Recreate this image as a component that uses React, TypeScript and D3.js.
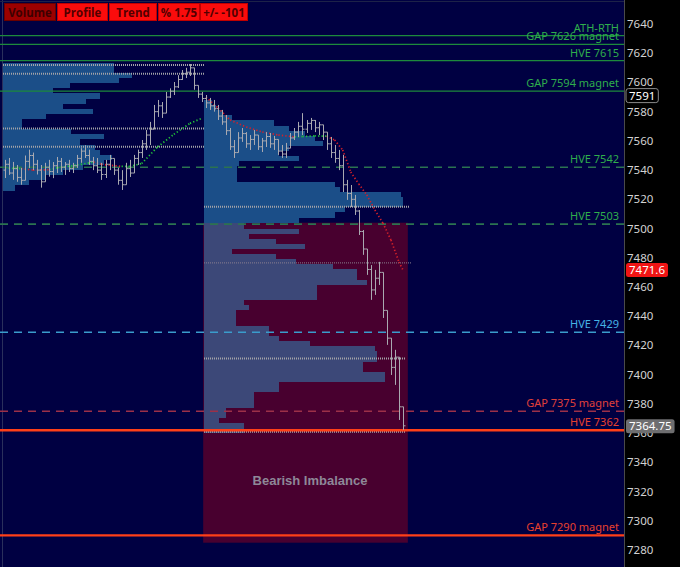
import React, { useEffect, useRef } from 'react';
import * as d3 from 'd3';

const W = 680;
const H = 567;
const PLOT_RIGHT = 624;

// price bars, oldest first: [open, high, low, close]
const bars: [number, number, number, number][] = [
  [7540, 7547, 7534.6, 7544], [7544, 7548.3, 7536.7, 7538], [7538, 7545.6, 7533.3, 7541], [7541, 7543.5, 7532, 7535],
  [7535, 7541.5, 7530, 7533], [7533, 7550, 7537, 7546], [7546, 7554, 7541.5, 7550], [7550, 7552, 7540, 7544],
  [7544, 7547, 7537, 7540], [7540, 7543.5, 7528, 7532], [7532, 7545, 7533, 7542], [7542, 7547, 7535.5, 7539],
  [7539, 7545.5, 7534.5, 7543], [7543, 7549, 7538, 7546], [7546, 7548.3, 7538.7, 7542], [7542, 7545.5, 7536.7, 7544],
  [7544, 7547, 7538.7, 7541], [7541, 7545, 7538, 7543], [7543, 7550.4, 7541.5, 7548], [7548, 7555, 7545, 7553],
  [7553, 7557, 7548.3, 7550], [7550, 7554, 7543.5, 7546], [7546, 7549, 7540, 7543], [7543, 7548.3, 7538, 7540],
  [7540, 7545, 7533.3, 7537], [7537, 7547, 7534.6, 7544], [7544, 7550.4, 7540, 7548], [7548, 7547, 7536.7, 7540],
  [7540, 7541.5, 7530, 7533], [7533, 7540, 7526.4, 7530], [7530, 7545, 7533.3, 7541], [7541, 7547, 7535.3, 7538],
  [7538, 7550.4, 7541.5, 7548], [7548, 7554, 7543.5, 7552], [7552, 7560.6, 7548.3, 7558], [7558, 7567.5, 7553.8, 7564],
  [7564, 7573, 7557.2, 7568], [7568, 7584.6, 7571, 7580], [7580, 7588, 7576.4, 7584], [7584, 7586.6, 7575.7, 7579],
  [7579, 7593.5, 7582.5, 7590], [7590, 7596, 7589.4, 7594], [7594, 7600.3, 7591.4, 7597], [7597, 7605, 7596.2, 7602],
  [7602, 7608.5, 7601.7, 7606], [7606, 7610, 7603, 7607], [7607, 7612.6, 7604.4, 7610], [7610, 7610, 7595, 7598],
  [7598, 7598, 7589.4, 7592], [7592, 7593.5, 7586.6, 7589], [7589, 7591.4, 7582.5, 7586], [7586, 7589.4, 7581.2, 7584],
  [7584, 7588, 7580, 7582], [7582, 7584.6, 7574.3, 7577], [7577, 7581.2, 7571, 7573], [7573, 7577.7, 7564, 7567],
  [7567, 7568.8, 7553.8, 7556], [7556, 7560.6, 7548.3, 7552], [7552, 7566, 7553.8, 7562], [7562, 7568.8, 7559.3, 7565],
  [7565, 7566, 7555.2, 7558], [7558, 7564, 7553.8, 7561], [7561, 7567.5, 7557.2, 7564], [7564, 7564, 7553.8, 7556],
  [7556, 7562, 7552.4, 7560], [7560, 7566, 7555.8, 7563], [7563, 7565.4, 7555.2, 7558], [7558, 7563.4, 7553.8, 7561],
  [7561, 7560.6, 7550.4, 7553], [7553, 7557.2, 7548.3, 7551], [7551, 7558.6, 7548.3, 7555], [7555, 7565.4, 7555.2, 7562],
  [7562, 7568.8, 7560.6, 7566], [7566, 7573, 7562.7, 7570], [7570, 7579, 7564, 7568], [7568, 7574.3, 7565.4, 7572],
  [7572, 7575.7, 7567.5, 7574], [7574, 7574.3, 7566, 7569], [7569, 7573, 7564, 7571], [7571, 7571, 7560.6, 7566],
  [7566, 7566, 7553.8, 7558], [7558, 7562.7, 7548.3, 7552], [7552, 7557.2, 7545, 7548], [7548, 7553.8, 7540, 7543],
  [7543, 7550.4, 7525, 7530], [7530, 7533.3, 7519.6, 7524], [7524, 7529.8, 7514.8, 7520], [7520, 7523, 7509.3, 7512],
  [7512, 7512.7, 7495.6, 7498], [7498, 7499, 7482, 7486], [7486, 7485.4, 7468.3, 7472], [7472, 7475, 7451.2, 7458],
  [7458, 7471.7, 7454.6, 7466], [7466, 7477.2, 7461.4, 7470], [7470, 7464.8, 7438.8, 7444], [7444, 7443, 7420.4, 7425],
  [7425, 7423.8, 7399.8, 7405], [7405, 7417, 7393, 7412], [7412, 7403.3, 7369, 7378], [7378, 7374.5, 7362.2, 7365],
];

// session VWAP-style averages: [bar index, price, trend]
const avgLeft: [number, number, string][] = [
  [0, 7541.5, 'up'], [4, 7541, 'up'], [7, 7540, 'down'], [11, 7540.3, 'down'], [13, 7541.5, 'up'],
  [18, 7543.5, 'up'], [22, 7545.5, 'up'], [24, 7544, 'down'], [29, 7542.5, 'down'], [31, 7542.5, 'up'],
  [34, 7544.5, 'up'], [38, 7556, 'up'], [42, 7564.5, 'up'], [46, 7572, 'up'], [49, 7575.5, 'up'],
];
const avgMid: [number, number, string][] = [
  [50, 7590, 'down'], [53, 7582.5, 'down'], [56, 7574.3, 'down'], [60, 7569.5, 'down'], [64, 7566.1, 'down'],
  [68, 7564, 'down'], [72, 7562.7, 'down'], [74, 7563, 'up'], [77, 7563.4, 'up'], [80, 7563.2, 'up'],
  [82, 7560.6, 'down'], [84, 7553.8, 'down'], [86, 7538.7, 'down'], [88, 7530.5, 'down'], [90, 7523, 'down'],
  [92, 7512.7, 'down'], [94, 7503.8, 'down'], [96, 7492.2, 'down'], [98, 7477.1, 'down'], [99, 7471.6, 'down'],
];

// volume profiles: row top price + volume
const ROW = 3.5;
const leftProfilePrices = [
  7613.5, 7610, 7606.5, 7603, 7599.5, 7596, 7592.5, 7589, 7585.5, 7582, 7578.5, 7575, 7571.5,
  7568, 7564.5, 7561, 7557.5, 7554, 7550.5, 7547, 7543.5, 7540, 7536.5, 7533, 7529.5,
];
const leftProfileVolumes = [
  110, 110, 128, 115, 67, 50, 97, 83, 60, 90, 43, 19, 19,
  68, 100, 77, 92, 97, 108, 100, 80, 60, 42, 26, 12,
];
const midProfilePrices = [
  7588, 7584.5, 7581, 7577.5, 7574, 7570.5, 7567, 7563.5, 7560, 7556.5, 7553, 7549.5,
  7546, 7542.5, 7539, 7535.5, 7532, 7528.5, 7525, 7521.5, 7518, 7514.5, 7511, 7507.5,
];
const midProfileVolumes = [
  8, 12, 18, 28, 70, 85, 100, 110, 118, 85, 75, 95,
  35, 33, 33, 33, 130, 135, 196, 198, 198, 140, 130, 95,
];
const imbProfilePrices = [
  7503.5, 7500, 7496.5, 7493, 7489.5, 7486, 7482.5, 7479, 7475.5, 7472, 7468.5, 7465, 7461.5, 7458,
  7454.5, 7451, 7447.5, 7444, 7440.5, 7437, 7433.5, 7430, 7426.5, 7423, 7419.5, 7416, 7412.5, 7409,
  7405.5, 7402, 7398.5, 7395, 7391.5, 7388, 7384.5, 7381, 7377.5, 7374, 7370.5, 7367, 7363.5,
];
const imbProfileVolumes = [
  40, 95, 45, 72, 100, 28, 72, 92, 128, 152, 152, 162, 112, 112,
  112, 40, 45, 32, 32, 32, 65, 65, 75, 105, 170, 172, 172, 158,
  158, 180, 180, 75, 75, 50, 50, 50, 22, 22, 15, 40, 40,
];

// dotted POC / value area lines per profile
const leftProfileLines = [7612, 7606, 7568.5, 7556];
const midProfileLines = [7515];
const midFaintLines = [7476.5];
const imbProfileLines = [7411, 7361];

// bearish imbalance zone
const imbTop = 7504;
const imbBottom = 7285;
const imbLabel = 'Bearish Imbalance';

// horizontal levels
const levelPrices = [7632, 7626, 7615, 7594, 7542, 7503, 7429, 7375, 7362, 7290];
const levelLabels = [
  'ATH-RTH', 'GAP 7626 magnet', 'HVE 7615', 'GAP 7594 magnet', 'HVE 7542',
  'HVE 7503', 'HVE 7429', 'GAP 7375 magnet', 'HVE 7362', 'GAP 7290 magnet',
];
const levelKinds = [
  'green', 'green', 'green', 'green', 'greenDash', 'greenDash', 'blueDash', 'redDash', 'orange', 'orange2',
];

const priceTicks = [
  7280, 7300, 7320, 7340, 7360, 7380, 7400, 7420, 7440, 7460,
  7480, 7500, 7520, 7540, 7560, 7580, 7600, 7620, 7640,
];

const markerPrices = [7591, 7471.6, 7364.75];
const markerTexts = ['7591', '7471.6', '7364.75'];
const markerKinds = ['outline', 'red', 'grey'];

const buttonLabels = ['Volume', 'Profile', 'Trend', '% 1.75', '+/- -101'];

const levelStyle: Record<string, { stroke: string; text: string; width: number; dash: string | null }> = {
  green: { stroke: '#1d8a3c', text: '#2fae4c', width: 1.2, dash: null },
  greenDash: { stroke: '#2b7350', text: '#2fae4c', width: 1.6, dash: '8 6' },
  blueDash: { stroke: '#3a9ccc', text: '#45b4e6', width: 1.6, dash: '8 6' },
  redDash: { stroke: '#9c3048', text: '#e0403a', width: 1.6, dash: '8 6' },
  orange: { stroke: '#ff3f18', text: '#e8402e', width: 2.6, dash: null },
  orange2: { stroke: '#ff3f18', text: '#e8402e', width: 2.2, dash: null },
};

const App: React.FC = () => {
  const svgRef = useRef<SVGSVGElement>(null);

  useEffect(() => {
    const svg = d3.select(svgRef.current);
    svg.selectAll('*').remove();

    const x = d3.scaleLinear().domain([0, bars.length - 1]).range([5, 403]);
    const y = d3.scaleLinear().domain([7280, 7640]).range([550, 24]);
    const vol = d3.scaleLinear().domain([0, 200]).range([0, x(49.5) - x(-0.5)]);

    // backgrounds
    svg.append('rect').attr('width', W).attr('height', H).attr('fill', '#000000');
    svg.append('rect').attr('width', PLOT_RIGHT).attr('height', H).attr('fill', '#000042');
    svg.append('line').attr('x1', 2.5).attr('x2', 2.5).attr('y1', 0).attr('y2', H)
      .attr('stroke', '#2a2f5c').attr('stroke-width', 1);
    svg.append('line').attr('x1', 0).attr('x2', PLOT_RIGHT).attr('y1', 1.5).attr('y2', 1.5)
      .attr('stroke', '#1d2248').attr('stroke-width', 1);

    // imbalance zone
    svg.append('rect')
      .attr('x', x(49.3)).attr('y', y(imbTop))
      .attr('width', x(100.2) - x(49.3)).attr('height', y(imbBottom) - y(imbTop))
      .attr('fill', '#48002f');

    const drawProfile = (prices: number[], volumes: number[], start: number, color: string) => {
      svg.append('g').attr('shape-rendering', 'crispEdges')
        .selectAll('rect').data(prices).join('rect')
        .attr('x', Math.round(x(start)))
        .attr('y', d => Math.round(y(d)))
        .attr('width', (_, i) => Math.round(vol(volumes[i])))
        .attr('height', d => Math.round(y(d - ROW)) - Math.round(y(d)))
        .attr('fill', color);
    };
    drawProfile(leftProfilePrices, leftProfileVolumes, -0.5, '#1b4e88');
    drawProfile(midProfilePrices, midProfileVolumes, 49.5, '#1b4e88');
    drawProfile(imbProfilePrices, imbProfileVolumes, 49.5, '#3c4878');

    const drawProfileLines = (prices: number[], start: number, end: number, color: string, width: number) => {
      svg.append('g').selectAll('line').data(prices).join('line')
        .attr('x1', x(start)).attr('x2', x(end))
        .attr('y1', d => y(d)).attr('y2', d => y(d))
        .attr('stroke', color)
        .attr('stroke-width', width)
        .attr('stroke-dasharray', '1 1');
    };
    drawProfileLines(leftProfileLines, -0.5, 49.5, '#a3a3a8', 2);
    drawProfileLines(midProfileLines, 49.5, 100.5, '#a3a3a8', 2);
    drawProfileLines(midFaintLines, 49.5, 101, '#8a7f90', 1);
    drawProfileLines(imbProfileLines, 49.5, 99.5, '#a3a3a8', 2);

    svg.append('text')
      .attr('x', 310).attr('y', 485)
      .attr('text-anchor', 'middle')
      .attr('font-family', '"Liberation Sans", Arial, sans-serif')
      .attr('font-weight', 'bold').attr('font-size', 13)
      .attr('fill', '#8e8898')
      .text(imbLabel);

    // horizontal levels
    levelPrices.forEach((p, i) => {
      const st = levelStyle[levelKinds[i]];
      svg.append('line')
        .attr('x1', 0).attr('x2', PLOT_RIGHT)
        .attr('y1', y(p)).attr('y2', y(p))
        .attr('stroke', st.stroke).attr('stroke-width', st.width)
        .attr('stroke-dasharray', st.dash);
      svg.append('text')
        .attr('x', 619).attr('y', y(p) - 4)
        .attr('text-anchor', 'end')
        .attr('font-family', '"Noto Sans", sans-serif').attr('font-size', 11)
        .attr('fill', st.text)
        .text(levelLabels[i]);
    });

    // averages (dotted, coloured by trend)
    const line = d3.line<[number, number, string]>().x(d => x(d[0])).y(d => y(d[1])).curve(d3.curveMonotoneX);
    [avgLeft, avgMid].forEach(pts => {
      for (let k = 1; k < pts.length; k++) {
        const seg = [pts[k - 1], pts[k]];
        svg.append('path')
          .attr('d', line(seg))
          .attr('fill', 'none')
          .attr('stroke', pts[k][2] === 'up' ? '#22c23a' : '#d4202a')
          .attr('stroke-width', 1.7)
          .attr('stroke-dasharray', '1.3 2.2');
      }
    });

    // OHLC bars
    const g = svg.append('g').attr('stroke', '#a9a9b0').attr('stroke-width', 1);
    bars.forEach(([o, hi, lo, c], i) => {
      const cx = Math.round(x(i)) + 0.5;
      const top = Math.max(hi, o, c);
      const bot = Math.min(lo, o, c);
      g.append('line').attr('x1', cx).attr('x2', cx).attr('y1', y(top)).attr('y2', y(bot));
      g.append('line').attr('x1', cx - 2).attr('x2', cx).attr('y1', y(o)).attr('y2', y(o));
      g.append('line').attr('x1', cx).attr('x2', cx + 2).attr('y1', y(c)).attr('y2', y(c));
    });

    // price axis
    svg.append('line').attr('x1', PLOT_RIGHT + 0.5).attr('x2', PLOT_RIGHT + 0.5).attr('y1', 0).attr('y2', H)
      .attr('stroke', '#4a4a4a');
    svg.append('g').selectAll('text').data(priceTicks).join('text')
      .attr('x', 627).attr('y', d => y(d))
      .attr('dy', '0.35em')
      .attr('font-family', '"Noto Sans", sans-serif').attr('font-size', 11.5)
      .attr('fill', '#d2d2d2')
      .text(d => d);

    markerPrices.forEach((p, i) => {
      const kind = markerKinds[i];
      const mg = svg.append('g');
      const r = mg.append('rect');
      const t = mg.append('text')
        .attr('x', 629).attr('y', y(p)).attr('dy', '0.35em')
        .attr('font-family', '"Noto Sans", sans-serif').attr('font-size', 11.5)
        .attr('fill', '#ffffff')
        .text(markerTexts[i]);
      const tw = (t.node() as SVGTextElement).getComputedTextLength();
      r.attr('x', 626).attr('y', y(p) - 7).attr('width', tw + 6).attr('height', 14).attr('rx', 2.5)
        .attr('fill', kind === 'red' ? '#f01414' : kind === 'grey' ? '#6e6e70' : '#000000')
        .attr('stroke', kind === 'outline' ? '#8a8a8a' : 'none');
    });

    // toolbar
    const btnX = [4, 57, 109, 158, 200];
    const btnW = [51, 50, 47, 41, 47];
    buttonLabels.forEach((lbl, i) => {
      const first = i === 0;
      svg.append('rect')
        .attr('x', btnX[i] + 0.5).attr('y', 3.5).attr('width', btnW[i]).attr('height', 17)
        .attr('fill', first ? '#9c0000' : '#fb0c0c')
        .attr('stroke', first ? '#6a0000' : '#c00000');
      svg.append('text')
        .attr('x', btnX[i] + btnW[i] / 2 + 0.5).attr('y', 12.5).attr('dy', '0.35em')
        .attr('text-anchor', 'middle')
        .attr('font-family', '"Open Sans", sans-serif').attr('font-weight', 'bold').attr('font-size', 11.5)
        .attr('fill', first ? '#3c0000' : '#520000')
        .text(lbl);
    });
  }, []);

  return (
    <svg
      ref={svgRef}
      width={W}
      height={H}
      style={{ position: 'absolute', left: 0, top: 0, display: 'block' }}
    />
  );
};

export default App;
